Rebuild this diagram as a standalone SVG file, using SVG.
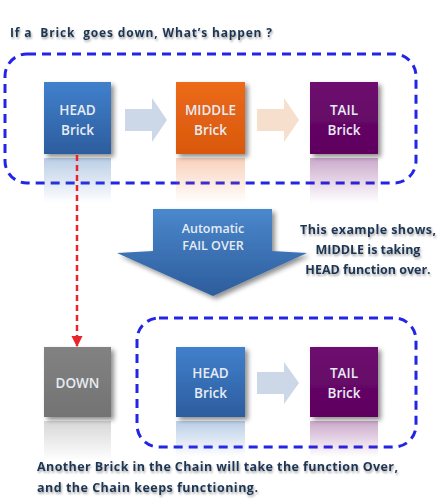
<svg xmlns="http://www.w3.org/2000/svg" width="441" height="499" viewBox="0 0 441 499">
<defs>
<linearGradient id="gBlue" x1="0" y1="0" x2="0" y2="1"><stop offset="0" stop-color="#4180cc"/><stop offset="1" stop-color="#2c5d9e"/></linearGradient>
<linearGradient id="gOrange" x1="0" y1="0" x2="0" y2="1"><stop offset="0" stop-color="#ec6a1a"/><stop offset="1" stop-color="#d9580c"/></linearGradient>
<linearGradient id="gPurple" x1="0" y1="0" x2="0" y2="1"><stop offset="0" stop-color="#6e0f70"/><stop offset="1" stop-color="#5e005e"/></linearGradient>
<linearGradient id="gGray" x1="0" y1="0" x2="0" y2="1"><stop offset="0" stop-color="#828282"/><stop offset="1" stop-color="#737373"/></linearGradient>
<linearGradient id="gBig" x1="0" y1="0" x2="0" y2="1"><stop offset="0" stop-color="#4a88cc"/><stop offset="1" stop-color="#2d5c9c"/></linearGradient>
<linearGradient id="rBlue" x1="0" y1="0" x2="0" y2="1"><stop offset="0" stop-color="#3a72b8" stop-opacity="0.35"/><stop offset="1" stop-color="#3a72b8" stop-opacity="0"/></linearGradient>
<linearGradient id="rOrange" x1="0" y1="0" x2="0" y2="1"><stop offset="0" stop-color="#e8651a" stop-opacity="0.3"/><stop offset="1" stop-color="#e8651a" stop-opacity="0"/></linearGradient>
<linearGradient id="rPurple" x1="0" y1="0" x2="0" y2="1"><stop offset="0" stop-color="#6a0a6a" stop-opacity="0.35"/><stop offset="1" stop-color="#6a0a6a" stop-opacity="0"/></linearGradient>
<linearGradient id="rGray" x1="0" y1="0" x2="0" y2="1"><stop offset="0" stop-color="#7a7a7a" stop-opacity="0.3"/><stop offset="1" stop-color="#7a7a7a" stop-opacity="0"/></linearGradient>
<filter id="sh" x="-20%" y="-20%" width="150%" height="150%"><feGaussianBlur in="SourceAlpha" stdDeviation="2.5"/><feOffset dx="3" dy="3"/><feComponentTransfer><feFuncA type="linear" slope="0.45"/></feComponentTransfer><feMerge><feMergeNode/><feMergeNode in="SourceGraphic"/></feMerge></filter>
<filter id="tsh" x="-5%" y="-30%" width="110%" height="160%"><feGaussianBlur in="SourceAlpha" stdDeviation="1.2"/><feOffset dx="1" dy="1.5"/><feComponentTransfer><feFuncA type="linear" slope="0.35"/></feComponentTransfer><feMerge><feMergeNode/><feMergeNode in="SourceGraphic"/></feMerge></filter>
<marker id="redHead" viewBox="0 0 10 10" refX="9" refY="5" markerWidth="4.5" markerHeight="4.5" orient="auto"><path d="M0,0 L10,5 L0,10 z" fill="#e8262a"/></marker>
</defs>
<style>
.group{fill:none;stroke:#2424e6;stroke-width:3;stroke-dasharray:9 6}
.btxt{font-family:"Open Sans","Liberation Sans",sans-serif;font-size:13.5px;font-weight:600;fill:#e6ecf4;text-anchor:middle}
.dark{font-family:"Open Sans","Liberation Sans",sans-serif;font-weight:bold;fill:#1f3553}
.wtxt{font-family:"Open Sans","Liberation Sans",sans-serif;font-size:12.5px;font-weight:600;fill:#e6ecf4;text-anchor:middle}
.flow{stroke:none}
</style>

<text class="dark" x="10" y="37" font-size="12" style="white-space:pre" textLength="262" filter="url(#tsh)">If a  Brick  goes down, What’s happen ?</text>

<rect class="group" x="5" y="54" width="411" height="129" rx="22"/>
<rect class="group" x="137" y="318" width="279" height="129" rx="22"/>

<!-- reflections -->
<rect x="44" y="158" width="67" height="45" fill="url(#rBlue)"/>
<rect x="176" y="158" width="69" height="45" fill="url(#rOrange)"/>
<rect x="310" y="158" width="68" height="45" fill="url(#rPurple)"/>
<rect x="44" y="421" width="67" height="40" fill="url(#rGray)"/>
<rect x="176" y="421" width="69" height="36" fill="url(#rBlue)"/>
<rect x="310" y="421" width="68" height="36" fill="url(#rPurple)"/>

<g id="head1">
<rect x="44" y="82" width="67" height="72" fill="url(#gBlue)" filter="url(#sh)"/>
<text class="btxt" x="77.5" y="115">HEAD</text>
<text class="btxt" x="77.5" y="135">Brick</text>
</g>
<g id="middle1">
<rect x="176" y="82" width="69" height="72" fill="url(#gOrange)" filter="url(#sh)"/>
<text class="btxt" x="210.5" y="115">MIDDLE</text>
<text class="btxt" x="210.5" y="135">Brick</text>
</g>
<g id="tail1">
<rect x="310" y="82" width="68" height="72" fill="url(#gPurple)" filter="url(#sh)"/>
<text class="btxt" x="344" y="115">TAIL</text>
<text class="btxt" x="344" y="135">Brick</text>
</g>
<g id="down">
<rect x="44" y="347" width="67" height="70" fill="url(#gGray)" filter="url(#sh)"/>
<text class="btxt" x="77.5" y="388">DOWN</text>
</g>
<g id="head2">
<rect x="176" y="347" width="69" height="70" fill="url(#gBlue)" filter="url(#sh)"/>
<text class="btxt" x="210.5" y="378">HEAD</text>
<text class="btxt" x="210.5" y="398">Brick</text>
</g>
<g id="tail2">
<rect x="310" y="347" width="68" height="70" fill="url(#gPurple)" filter="url(#sh)"/>
<text class="btxt" x="344" y="378">TAIL</text>
<text class="btxt" x="344" y="398">Brick</text>
</g>

<g id="failover">
<path d="M153,209 L272,209 L272,251 L307,253 L213,296 L117,253 L153,251 Z" fill="url(#gBig)" filter="url(#sh)"/>
<text class="wtxt" x="213" y="233">Automatic</text>
<text class="wtxt" x="213" y="250">FAIL OVER</text>
</g>

<g id="connectors">
<path class="flow" d="M125,109 L152,109 L152,98 L167,120 L152,142 L152,131 L125,131 Z" fill="#ccd8e8"/>
<path class="flow" d="M257,109 L284,109 L284,98 L299,120 L284,142 L284,131 L257,131 Z" fill="#f6dfcc"/>
<path class="flow" d="M257,372 L284,372 L284,362 L299,383 L284,404 L284,394 L257,394 Z" fill="#ccd8e8"/>
<line x1="77" y1="155" x2="77" y2="346" stroke="#e8262a" stroke-width="2.5" stroke-dasharray="6 4" marker-end="url(#redHead)"/>
</g>

<g id="note" filter="url(#tsh)">
<text class="dark" x="368" y="234" font-size="12.5" text-anchor="middle" textLength="136">This example shows,</text>
<text class="dark" x="368" y="254" font-size="12.5" text-anchor="middle">MIDDLE is taking</text>
<text class="dark" x="368" y="274" font-size="12.5" text-anchor="middle">HEAD function over.</text>
</g>
<g id="caption" filter="url(#tsh)">
<text class="dark" x="37" y="471" font-size="12.5" textLength="361">Another Brick in the Chain will take the function Over,</text>
<text class="dark" x="37" y="492" font-size="12.5" textLength="221">and the Chain keeps functioning.</text>
</g>
</svg>
